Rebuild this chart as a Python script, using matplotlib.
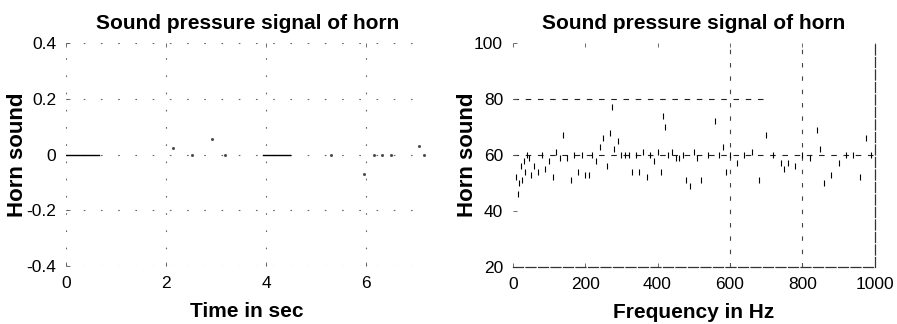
import matplotlib
matplotlib.use("Agg")
import matplotlib.pyplot as plt
import numpy as np

plt.rcParams['font.family'] = ['Liberation Sans', 'DejaVu Sans']

# ---- left panel: time signal (what survives in the picture) ----
quiet1_t = [0.0, 0.65]
quiet1_y = [0.0, 0.0]
quiet2_t = [3.93, 4.47]
quiet2_y = [0.0, 0.0]
speck_t = [2.13, 2.52, 2.92, 3.17, 5.29, 5.95, 6.15, 6.32, 6.49, 7.05, 7.15]
speck_y = [0.024, 0.0, 0.056, 0.0, 0.0, -0.07, 0.0, 0.0, 0.0, 0.03, 0.0]
time_ticks = [0, 2, 4, 6]
amp_ticks = [-0.4, -0.2, 0, 0.2, 0.4]
amp_ticklabels = ['-0.4', '-0.2', '0', '0.2', '0.4']

# ---- right panel: spectrum (dB) ----
freq = [10, 14, 18, 22, 26, 30, 35, 40, 45, 50, 60, 70, 80, 90, 100, 110, 120,
        130, 140, 150, 160, 170, 180, 190, 200, 210, 220, 230, 240, 250, 260,
        270, 275, 280, 290, 300, 310, 320, 330, 340, 350, 360, 370, 380, 390,
        400, 410, 415, 420, 430, 440, 450, 460, 470, 480, 490, 500, 510, 520,
        540, 560, 570, 580, 590, 600, 620, 640, 660, 680, 700, 720, 740, 750,
        760, 780, 800, 820, 840, 850, 860, 880, 900, 920, 940, 960, 975, 990]
level = [52, 46, 50, 56, 51, 58, 54, 60, 59, 53, 56, 54, 60, 55, 58, 52, 61,
         59, 67, 59, 51, 60, 54, 60, 53, 53, 60, 58, 63, 66, 56,
         68, 77, 62, 65, 60, 60, 60, 54, 60, 54, 61, 52, 60, 58,
         61, 54, 74, 70, 60, 61, 59, 59, 60, 51, 49, 61, 59, 51,
         60, 72, 60, 63, 54, 60, 57, 60, 61, 51, 67, 60, 57, 55,
         57, 56, 60, 59, 69, 62, 50, 53, 57, 60, 60, 52, 66, 60]
freq_ticks = [0, 200, 400, 600, 800, 1000]
db_ticks = [20, 40, 60, 80, 100]
# grid lines that remain visible in the reference
freq_grid = [600, 800]
db_grid = [60, 80]

title = 'Sound pressure signal of horn'

fig = plt.figure(figsize=(8.97, 3.24), dpi=100)
ax1 = fig.add_axes([0.0736, 0.179, 0.404, 0.688])
ax2 = fig.add_axes([0.5716, 0.176, 0.4036, 0.691])

for ax, lx in ((ax1, -0.106), (ax2, -0.097)):
    ax.set_title(title, fontsize=15, fontweight='bold', pad=10)
    ax.set_ylabel('Horn sound', fontsize=16, fontweight='bold')
    ax.yaxis.set_label_coords(lx, 0.5)
    ax.tick_params(direction='in', length=3, width=0.6, top=True, right=False,
                   labelsize=12.5, pad=7, color='#555555')

# left panel
ax1.plot(quiet1_t, quiet1_y, color='black', lw=1.0)
ax1.plot(quiet2_t, quiet2_y, color='black', lw=1.0)
ax1.plot(speck_t, speck_y, ls='none', marker='s', ms=1.0, color='#444444')
ax1.set_xlim(0, 7.24)
ax1.set_ylim(-0.4, 0.4)
ax1.set_xticks(time_ticks)
ax1.set_yticks(amp_ticks)
ax1.set_yticklabels(amp_ticklabels)
ax1.set_xlabel('Time in sec', fontsize=15, fontweight='bold', labelpad=8)
ax1.grid(True, ls=(0, (1.5, 14)), color='#666666', lw=0.8)
for s in ax1.spines.values():
    s.set_visible(False)

# right panel
ax2.plot(freq, level, ls='none', marker='|', ms=5, mew=0.8, color='black')
ax2.set_xlim(0, 1000)
ax2.set_ylim(20, 100)
ax2.set_xticks(freq_ticks)
ax2.set_yticks(db_ticks)
ax2.set_xlabel('Frequency in Hz', fontsize=15, fontweight='bold', labelpad=8)
ax2.axhline(db_grid[0], ls=(0, (5, 6)), color='#222222', lw=0.8, zorder=1)
ax2.axhline(db_grid[1], xmax=0.7, ls=(0, (5, 6)), color='#222222', lw=0.8, zorder=1)
for fx in freq_grid:
    ax2.axvline(fx, ls=(0, (4, 8)), color='#444444', lw=0.8, zorder=1)
for k in ('top', 'left'):
    ax2.spines[k].set_visible(False)
for k in ('bottom', 'right'):
    ax2.spines[k].set_linestyle((0, (8, 2)))
    ax2.spines[k].set_linewidth(0.9)
    ax2.spines[k].set_color('#333333')

fig.savefig('out.png', dpi=100)
